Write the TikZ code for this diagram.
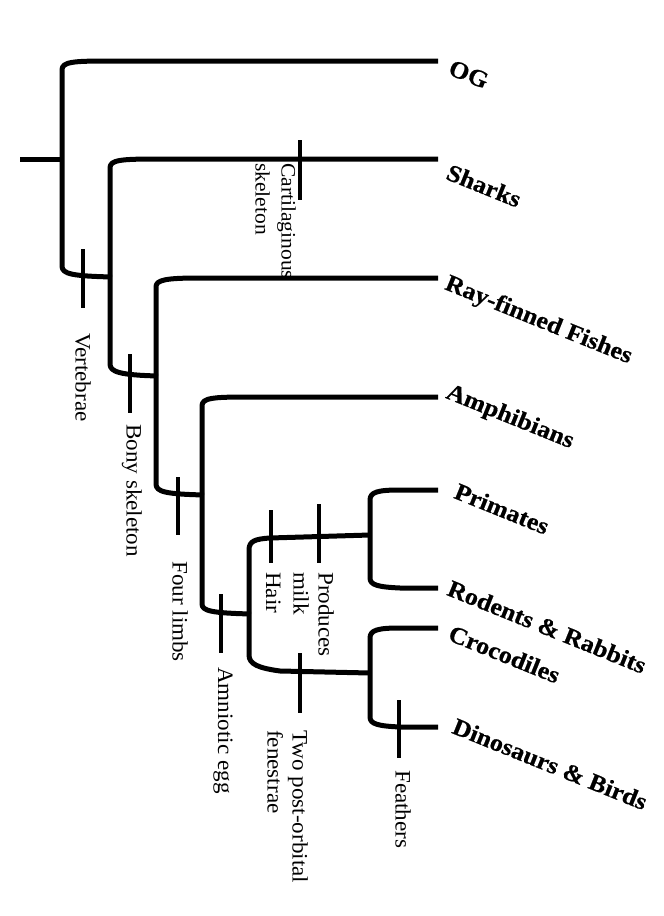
\documentclass[tikz,border=0pt]{standalone}
\usepackage{fontspec}
\setmainfont{Liberation Serif}
\newfontfamily\traitfont[FakeStretch=1.05]{Liberation Serif}
\newfontfamily\taxonfont[FakeStretch=1.08,FakeBold=0.6]{Liberation Serif Bold}
\begin{document}
\begin{tikzpicture}[x=1pt,y=-1pt,
 branch/.style={line width=5pt, line join=round},
 tickmark/.style={line width=3.6pt},
 trait/.style={rotate=-90, anchor=north west, inner sep=0pt, align=left, font=\traitfont\fontsize{22}{25}\selectfont},
 taxon/.style={rotate=-22, anchor=north west, inner sep=0pt, font=\taxonfont\fontsize{24}{27}\selectfont}]
\fill[white] (0,0) rectangle (664,916);
\useasboundingbox (0,0) rectangle (664,916);
% tips
\coordinate (root) at (20,159);
\coordinate (n1) at (62,159);
\coordinate (tOG) at (438,61);
\coordinate (tSh) at (438,159);
\coordinate (tRF) at (438,278);
\coordinate (tAm) at (438,397);
\coordinate (tPr) at (438,490);
\coordinate (tRo) at (438,588);
\coordinate (tCr) at (438,628);
\coordinate (tDi) at (438,727);
\coordinate (jMam) at (370,535);
\coordinate (jRep) at (370,673);
% tree
\draw[branch] (root) -- (n1);
\draw[branch] (tOG) -- (108,61) .. controls (72,61) and (62,62) .. (62,70) -- (62,266) .. controls (62,274) and (72,276) .. (112,277);
\draw[branch] (tSh) -- (158,159) .. controls (120,159) and (110,160) .. (110,168) -- (110,364) .. controls (110,372) and (120,375) .. (158,376);
\draw[branch] (tRF) -- (200,278) .. controls (165,278) and (156,280) .. (156,287) -- (156,484) .. controls (156,492) and (166,494) .. (204,495);
\draw[branch] (tAm) -- (248,397) .. controls (212,397) and (202,398) .. (202,406) -- (202,604) .. controls (202,611) and (212,613) .. (251,614);
\draw[branch] (jMam) -- (270,538) .. controls (255,539) and (249,541) .. (249,550) -- (249,655) .. controls (249,664) and (258,668) .. (280,671) -- (jRep);
\draw[branch] (tPr) -- (400,490) .. controls (378,490) and (370,492) .. (370,500) -- (370,578) .. controls (370,585) and (378,587) .. (400,588) -- (tRo);
\draw[branch] (tCr) -- (400,628) .. controls (378,628) and (370,630) .. (370,638) -- (370,717) .. controls (370,724) and (378,726) .. (400,727) -- (tDi);
% character ticks
\draw[tickmark] (83,249) coordinate (kV1) -- (83,308) coordinate (kV2);
\draw[tickmark] (300,140) coordinate (kC1) -- (300,200) coordinate (kC2);
\draw[tickmark] (130,354) coordinate (kB1) -- (130,413) coordinate (kB2);
\draw[tickmark] (178,477) coordinate (kF1) -- (178,535) coordinate (kF2);
\draw[tickmark] (221,594) coordinate (kA1) -- (221,653) coordinate (kA2);
\draw[tickmark] (271,510) coordinate (kH1) -- (271,563) coordinate (kH2);
\draw[tickmark] (319,504) coordinate (kM1) -- (319,563) coordinate (kM2);
\draw[tickmark] (300,653) coordinate (kT1) -- (300,713) coordinate (kT2);
\draw[tickmark] (399,700) coordinate (kE1) -- (399,758) coordinate (kE2);
% character labels
\node[trait] (lV) at (91,333) {Vertebrae};
\node[trait, font=\traitfont\fontsize{20.5}{26}\selectfont] (lC) at (296,163) {Cartilaginous\\skeleton};
\node[trait] (lB) at (142,424) {Bony skeleton};
\node[trait] (lF) at (188,561) {Four limbs};
\node[trait] (lA) at (233,667) {Amniotic egg};
\node[trait] (lH) at (281,572) {Hair};
\node[trait] (lM) at (334,572) {Produces\\milk};
\node[trait] (lT) at (308,730) {Two post-orbital\\fenestrae};
\node[trait] (lE) at (411,770) {Feathers};
% taxa
\node[taxon] (xOG) at (453,59) {OG};
\node[taxon] (xSh) at (451,163) {Sharks};
\node[taxon] (xRF) at (450,273) {Ray-finned Fishes};
\node[taxon] (xAm) at (451,382) {Amphibians};
\node[taxon] (xPr) at (459,482) {Primates};
\node[taxon] (xRo) at (452,579) {Rodents \& Rabbits};
\node[taxon] (xCr) at (453,624) {Crocodiles};
\node[taxon] (xDi) at (457,717) {Dinosaurs \& Birds};
\end{tikzpicture}
\end{document}
